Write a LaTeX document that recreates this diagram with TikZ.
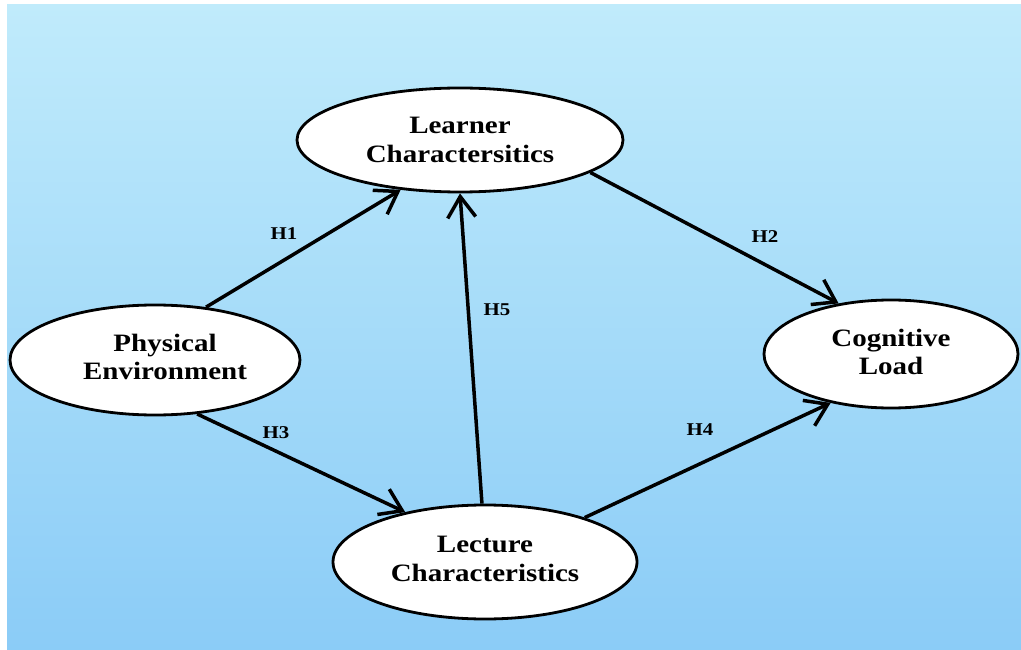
\documentclass[tikz,border=0pt]{standalone}
\usepackage{fontspec}
\setmainfont{Liberation Serif}
\newfontfamily\widefont[FakeStretch=1.16]{Liberation Serif}
\usetikzlibrary{shapes.geometric,arrows.meta}
\definecolor{bgtop}{HTML}{C0EBFB}
\definecolor{bgbot}{HTML}{8BCCF7}
\tikzset{
  construct/.style={ellipse, draw=black, line width=2.8pt, fill=white, inner sep=0pt,
    align=center, font=\widefont\bfseries\fontsize{25}{28.5}\selectfont},
  path/.style={line width=3.5pt, -{Straight Barb[length=21pt,width=28pt,line width=3.5pt]}},
  hyp/.style={font=\widefont\bfseries\fontsize{18}{20}\selectfont}
}
\begin{document}
\begin{tikzpicture}[x=1pt,y=-1pt]
\useasboundingbox (0,0) rectangle (1021,650);
\shade[top color=bgtop, bottom color=bgbot, middle color=bgtop!50!bgbot] (7,5) rectangle (1021,650);
\node[construct, minimum width=326pt, minimum height=104pt] (learn) at (460,140) {};
\node[construct, minimum width=290pt, minimum height=110pt] (phys) at (155,360) {};
\node[construct, minimum width=254pt, minimum height=108pt] (cog) at (891,354) {};
\node[construct, minimum width=304pt, minimum height=114pt] (lect) at (485,562) {};
\node[align=center, font=\widefont\bfseries\fontsize{25}{28.5}\selectfont] (learnt) at (learn) {Learner\\Charactersitics};
\node[align=center, font=\widefont\bfseries\fontsize{25}{28.5}\selectfont] (physt) at (165,357) {Physical\\Environment};
\node[align=center, font=\widefont\bfseries\fontsize{25}{28.5}\selectfont] (cogt) at (891,352) {Cognitive\\Load};
\node[align=center, font=\widefont\bfseries\fontsize{25}{28.5}\selectfont] (lectt) at (485,559) {Lecture\\Characteristics};
\draw[path] (phys.46) -- (learn.220);
\draw[path] (learn.-14) -- (cog.136);
\draw[path] (phys.-52) -- (lect.148);
\draw[path] (lect.24) -- (cog.219);
\draw[path] (lect.93) -- (learn.270);
\node[hyp] (h1) at (284,234) {H1};
\node[hyp] (h2) at (765,237) {H2};
\node[hyp] (h3) at (276,433) {H3};
\node[hyp] (h4) at (700,430) {H4};
\node[hyp] (h5) at (497,310) {H5};
\end{tikzpicture}
\end{document}
